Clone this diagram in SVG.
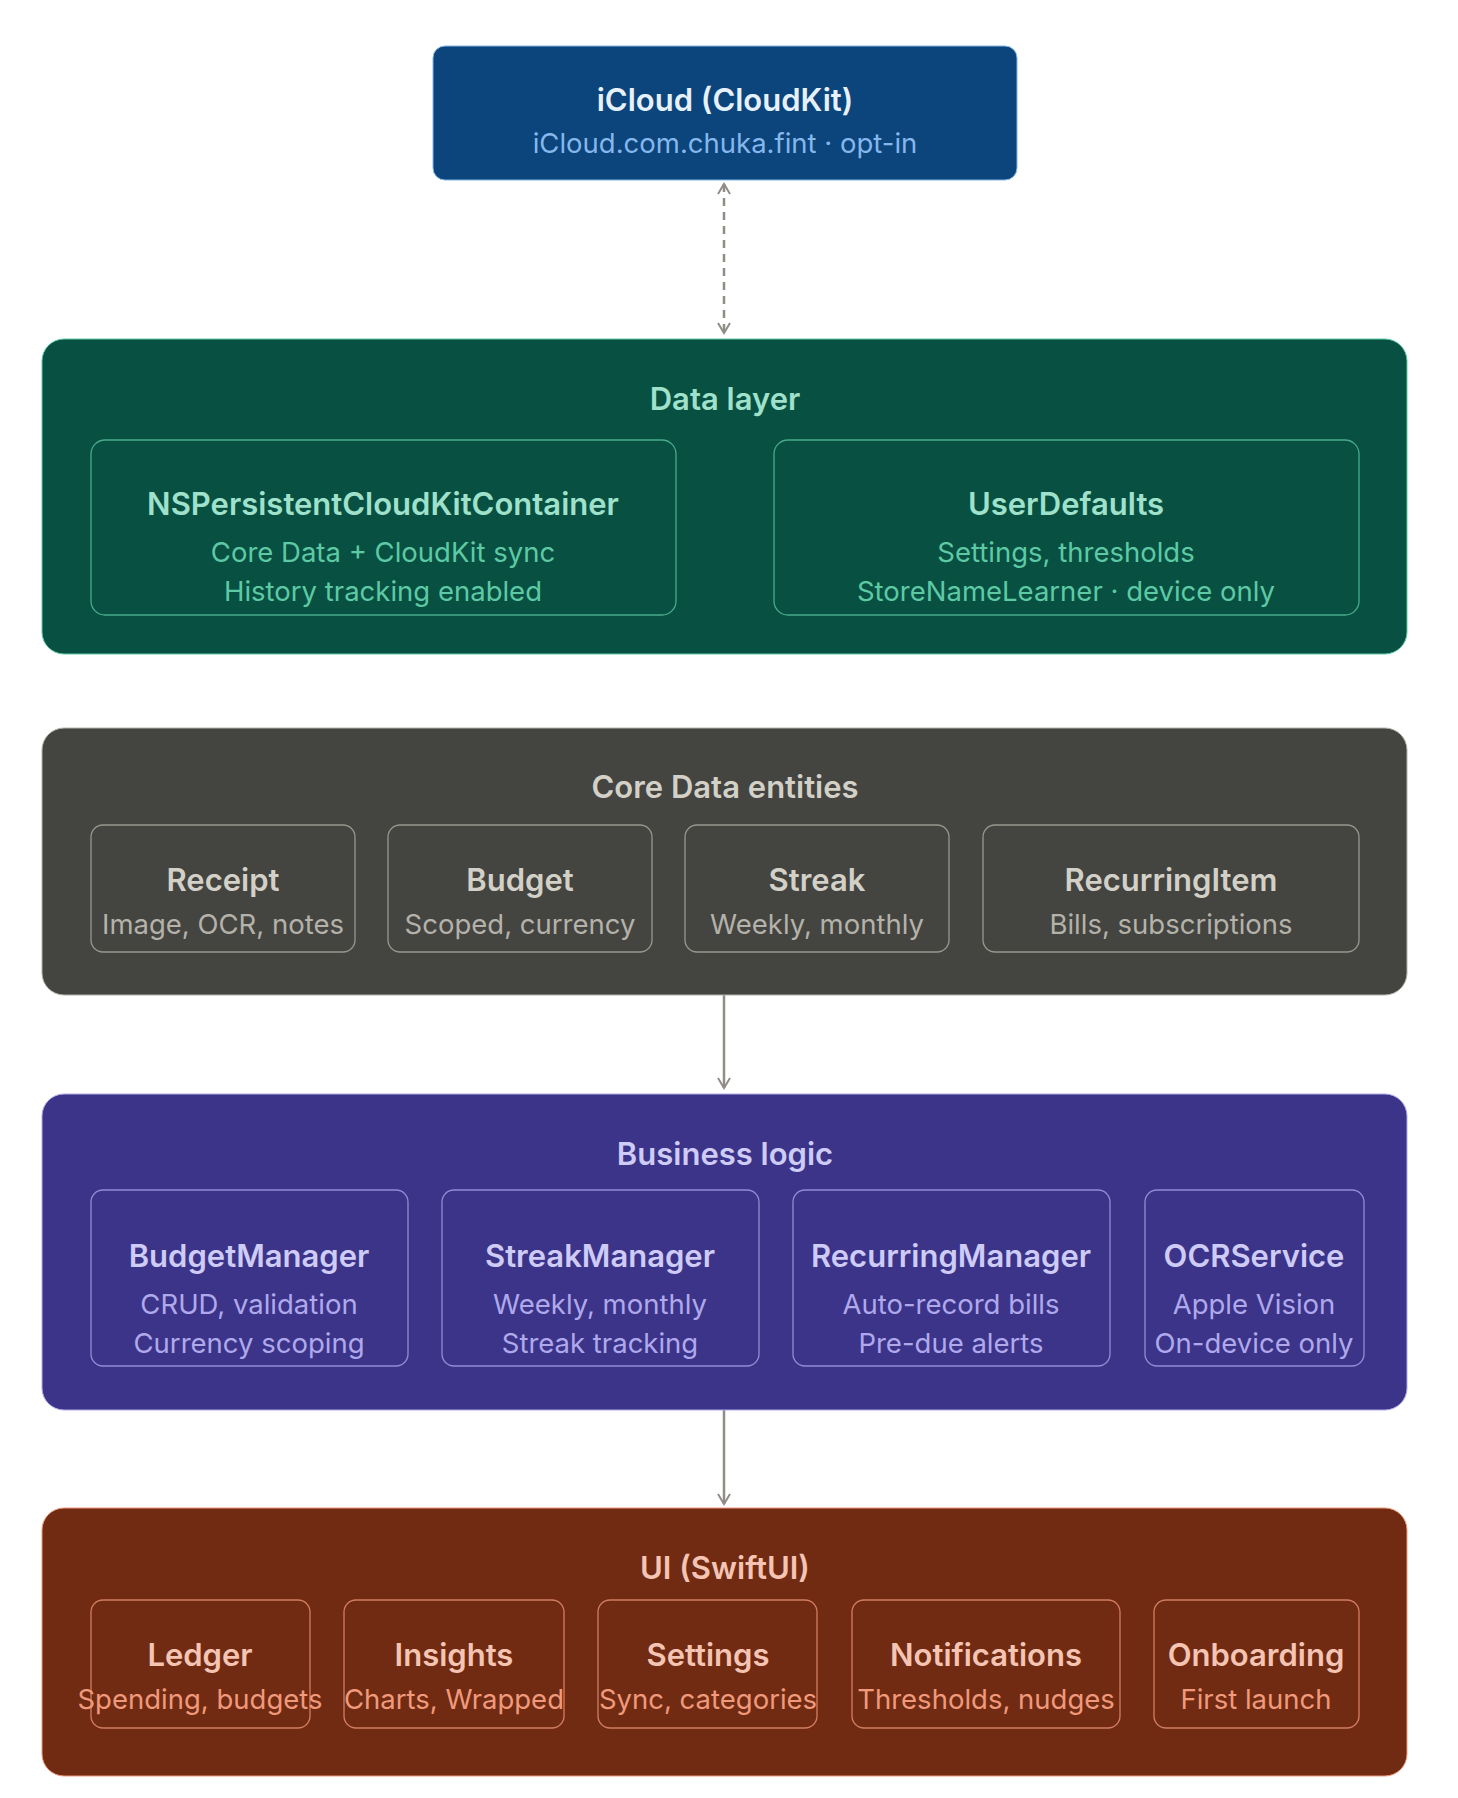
<svg xmlns="http://www.w3.org/2000/svg" width="1458" height="1798" viewBox="0 0 1458 1798">
<style>
text{font-family:Inter,"Liberation Sans",sans-serif;text-anchor:middle;dominant-baseline:central}
.t{font-size:31px;font-weight:600}
.s{font-size:27.5px;font-weight:400}
.ln{fill:none;stroke-width:1.3;stroke-opacity:0.75}
.conn{stroke:#8f8d86;stroke-width:2.5;fill:none}
.blue .t{fill:#E6F1FB}.blue .s{fill:#85B7EB}
.green rect{fill:#085041;stroke:#5DCAA5}.green .t{fill:#9FE1CB}.green .s{fill:#5DCAA5}
.gray rect{fill:#444441;stroke:#B4B2A9}.gray .t{fill:#D3D1C7}.gray .s{fill:#B4B2A9}
.purple rect{fill:#3C3489;stroke:#AFA9EC}.purple .t{fill:#CECBF6}.purple .s{fill:#AFA9EC}
.red rect{fill:#712B13;stroke:#F0997B}.red .t{fill:#F5C4B3}.red .s{fill:#F0997B}
</style>
<defs>
<marker id="ah" viewBox="0 0 14 14" refX="12" refY="7" markerWidth="14" markerHeight="14" orient="auto-start-reverse" markerUnits="userSpaceOnUse"><path d="M2 1L12 7L2 13" fill="none" stroke="#8f8d86" stroke-width="2"/></marker>
</defs>
<g id="connectors">
<line class="conn" x1="724" y1="184" x2="724" y2="333" stroke-dasharray="8 6" marker-start="url(#ah)" marker-end="url(#ah)"/>
<line class="conn" x1="724" y1="995" x2="724" y2="1088" marker-end="url(#ah)"/>
<line class="conn" x1="724" y1="1410" x2="724" y2="1504" marker-end="url(#ah)"/>
</g>
<g id="icloud" class="blue">
<rect x="433" y="46" width="584" height="134" rx="12" fill="#0C447C" stroke="#85B7EB" stroke-width="1"/>
<text class="t" x="725" y="99">iCloud (CloudKit)</text>
<text class="s" x="725" y="143">iCloud.com.chuka.fint · opt-in</text>
</g>
<g id="data-layer" class="green">
<rect x="42" y="339" width="1365" height="315" rx="22" stroke-width="1"/>
<text class="t" x="725" y="398">Data layer</text>
<g id="nspc"><rect x="91" y="440" width="585" height="175" rx="14" class="ln"/>
<text class="t" x="383" y="503">NSPersistentCloudKitContainer</text>
<text class="s" x="383" y="552">Core Data + CloudKit sync</text>
<text class="s" x="383" y="591">History tracking enabled</text></g>
<g id="userdefaults"><rect x="774" y="440" width="585" height="175" rx="14" class="ln"/>
<text class="t" x="1066" y="503">UserDefaults</text>
<text class="s" x="1066" y="552">Settings, thresholds</text>
<text class="s" x="1066" y="591">StoreNameLearner · device only</text></g>
</g>
<g id="core-data" class="gray">
<rect x="42" y="728" width="1365" height="267" rx="22" stroke-width="1"/>
<text class="t" x="725" y="786">Core Data entities</text>
<g id="receipt"><rect x="91" y="825" width="264" height="127" rx="12" class="ln"/>
<text class="t" x="223" y="879">Receipt</text><text class="s" x="223" y="924">Image, OCR, notes</text></g>
<g id="budget"><rect x="388" y="825" width="264" height="127" rx="12" class="ln"/>
<text class="t" x="520" y="879">Budget</text><text class="s" x="520" y="924">Scoped, currency</text></g>
<g id="streak"><rect x="685" y="825" width="264" height="127" rx="12" class="ln"/>
<text class="t" x="817" y="879">Streak</text><text class="s" x="817" y="924">Weekly, monthly</text></g>
<g id="recurringitem"><rect x="983" y="825" width="376" height="127" rx="12" class="ln"/>
<text class="t" x="1171" y="879">RecurringItem</text><text class="s" x="1171" y="924">Bills, subscriptions</text></g>
</g>
<g id="business" class="purple">
<rect x="42" y="1094" width="1365" height="316" rx="22" stroke-width="1"/>
<text class="t" x="725" y="1153">Business logic</text>
<g id="budgetmanager"><rect x="91" y="1190" width="317" height="176" rx="12" class="ln"/>
<text class="t" x="249" y="1255">BudgetManager</text><text class="s" x="249" y="1304">CRUD, validation</text><text class="s" x="249" y="1343">Currency scoping</text></g>
<g id="streakmanager"><rect x="442" y="1190" width="317" height="176" rx="12" class="ln"/>
<text class="t" x="600" y="1255">StreakManager</text><text class="s" x="600" y="1304">Weekly, monthly</text><text class="s" x="600" y="1343">Streak tracking</text></g>
<g id="recurringmanager"><rect x="793" y="1190" width="317" height="176" rx="12" class="ln"/>
<text class="t" x="951" y="1255">RecurringManager</text><text class="s" x="951" y="1304">Auto-record bills</text><text class="s" x="951" y="1343">Pre-due alerts</text></g>
<g id="ocrservice"><rect x="1145" y="1190" width="219" height="176" rx="12" class="ln"/>
<text class="t" x="1254" y="1255">OCRService</text><text class="s" x="1254" y="1304">Apple Vision</text><text class="s" x="1254" y="1343">On-device only</text></g>
</g>
<g id="ui" class="red">
<rect x="42" y="1508" width="1365" height="268" rx="22" stroke-width="1"/>
<text class="t" x="725" y="1567">UI (SwiftUI)</text>
<g id="ledger"><rect x="91" y="1600" width="219" height="128" rx="12" class="ln"/>
<text class="t" x="200" y="1654">Ledger</text><text class="s" x="200" y="1699">Spending, budgets</text></g>
<g id="insights"><rect x="344" y="1600" width="220" height="128" rx="12" class="ln"/>
<text class="t" x="454" y="1654">Insights</text><text class="s" x="454" y="1699">Charts, Wrapped</text></g>
<g id="settings"><rect x="598" y="1600" width="219" height="128" rx="12" class="ln"/>
<text class="t" x="708" y="1654">Settings</text><text class="s" x="708" y="1699">Sync, categories</text></g>
<g id="notifications"><rect x="852" y="1600" width="268" height="128" rx="12" class="ln"/>
<text class="t" x="986" y="1654">Notifications</text><text class="s" x="986" y="1699">Thresholds, nudges</text></g>
<g id="onboarding"><rect x="1154" y="1600" width="205" height="128" rx="12" class="ln"/>
<text class="t" x="1256" y="1654">Onboarding</text><text class="s" x="1256" y="1699">First launch</text></g>
</g>
</svg>
